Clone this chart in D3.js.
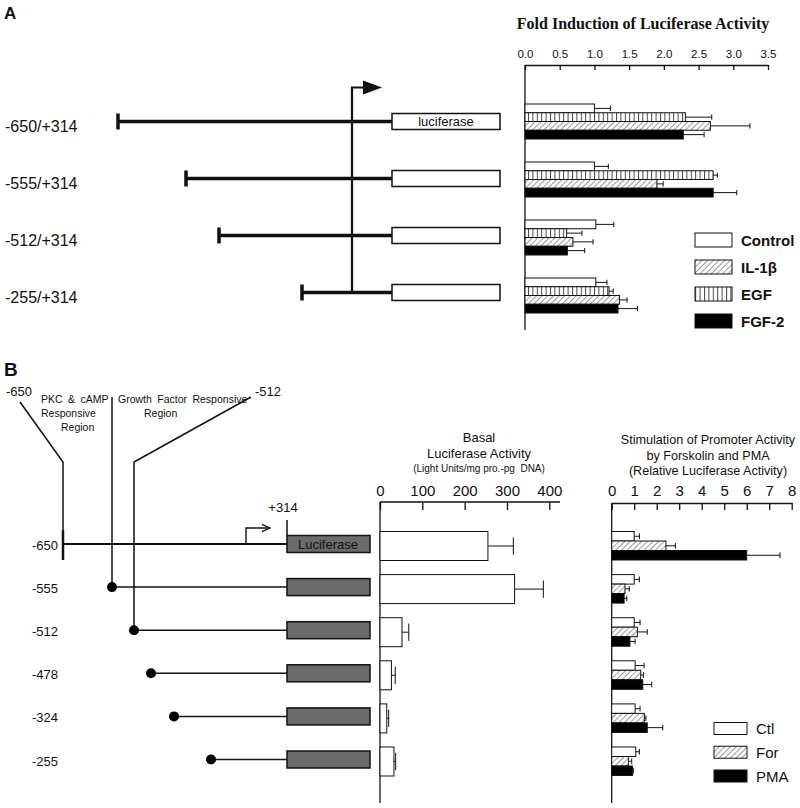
<!DOCTYPE html>
<html>
<head>
<meta charset="utf-8">
<script src="https://cdn.jsdelivr.net/npm/d3@7/dist/d3.min.js"></script>
<style>
  body { margin: 0; background: #fff; }
  text { font-family: "Liberation Sans", Arial, sans-serif; fill: #111; }
  .axis path, .axis line { stroke: #111; stroke-width: 1.3; }
</style>
</head>
<body>
<svg id="fig" width="800" height="808"></svg>
<script>
// ---- Panel A data ----
var rowsA = ["-650/+314", "-555/+314", "-512/+314", "-255/+314"];
var startsA = [-650, -555, -512, -255];
var seriesA = ["Control", "EGF", "IL-1\u03b2", "FGF-2"];   // bar order inside a group
var legendA = ["Control", "IL-1\u03b2", "EGF", "FGF-2"];
var controlA = [1.00, 1.00, 1.02, 1.02];
var controlErrA = [0.23, 0.20, 0.26, 0.16];
var egfA = [2.31, 2.71, 0.60, 1.21];
var egfErrA = [0.38, 0.06, 0.22, 0.06];
var il1bA = [2.67, 1.90, 0.69, 1.36];
var il1bErrA = [0.57, 0.09, 0.29, 0.11];
var fgf2A = [2.28, 2.71, 0.61, 1.34];
var fgf2ErrA = [0.30, 0.34, 0.25, 0.28];
var ticksA = [0, 0.5, 1, 1.5, 2, 2.5, 3, 3.5];

// ---- Panel B data ----
var rowsB = ["-650", "-555", "-512", "-478", "-324", "-255"];
var startsB = [-650, -555, -512, -478, -324, -255];
var basal = [255, 318, 52, 27, 16, 33];
var basalErr = [60, 68, 16, 9, 4.5, 4];
var ticksBasal = [0, 100, 200, 300, 400];
var seriesB = ["Ctl", "For", "PMA"];
var ctlB = [1.00, 1.00, 1.00, 1.04, 1.04, 1.07];
var ctlErrB = [0.23, 0.23, 0.26, 0.40, 0.22, 0.16];
var forB = [2.41, 0.59, 1.14, 1.29, 1.45, 0.74];
var forErrB = [0.42, 0.19, 0.44, 0.12, 0.07, 0.15];
var pmaB = [6.00, 0.55, 0.81, 1.38, 1.58, 0.92];
var pmaErrB = [1.48, 0.12, 0.23, 0.40, 0.69, 0.04];
var ticksStim = [0, 1, 2, 3, 4, 5, 6, 7, 8];

var svg = d3.select("#fig");
var defs = svg.append("defs");

// hatch patterns
var diag = defs.append("pattern").attr("id", "diag")
    .attr("patternUnits", "userSpaceOnUse").attr("width", 4).attr("height", 4)
    .attr("patternTransform", "rotate(45)");
diag.append("rect").attr("width", 4).attr("height", 4).attr("fill", "#fff");
diag.append("line").attr("x1", 0).attr("y1", 0).attr("x2", 0).attr("y2", 4)
    .attr("stroke", "#555").attr("stroke-width", 1.2);
var vert = defs.append("pattern").attr("id", "vert")
    .attr("patternUnits", "userSpaceOnUse").attr("width", 4.4).attr("height", 10);
vert.append("rect").attr("width", 4.4).attr("height", 10).attr("fill", "#fff");
vert.append("line").attr("x1", 0.5).attr("y1", 0).attr("x2", 0.5).attr("y2", 10)
    .attr("stroke", "#444").attr("stroke-width", 1);
defs.append("marker").attr("id", "open").attr("viewBox", "0 0 10 10")
    .attr("refX", 9).attr("refY", 5).attr("markerWidth", 9).attr("markerHeight", 9)
    .attr("markerUnits", "userSpaceOnUse").attr("orient", "auto")
  .append("path").attr("d", "M0,1 L9,5 L0,9").attr("fill", "none")
    .attr("stroke", "#111").attr("stroke-width", 1.4);

var fillA = { "Control": "#fff", "EGF": "url(#vert)", "IL-1\u03b2": "url(#diag)", "FGF-2": "#000" };
var fillB = { "Ctl": "#fff", "For": "url(#diag)", "PMA": "#000" };

function valuesA(s) {
  return { "Control": [controlA, controlErrA], "EGF": [egfA, egfErrA],
           "IL-1\u03b2": [il1bA, il1bErrA], "FGF-2": [fgf2A, fgf2ErrA] }[s];
}
function valuesB(s) {
  return { "Ctl": [ctlB, ctlErrB], "For": [forB, forErrB], "PMA": [pmaB, pmaErrB] }[s];
}

// draw horizontal bars with error whiskers
function drawBars(g, data, x, fill) {
  g.selectAll("rect.bar").data(data).enter().append("rect")
      .attr("class", "bar")
      .attr("x", x(0))
      .attr("y", function (d) { return d.y; })
      .attr("width", function (d) { return x(d.v) - x(0); })
      .attr("height", function (d) { return d.h; })
      .attr("fill", function (d) { return fill[d.s]; })
      .attr("stroke", "#111").attr("stroke-width", 1);
  g.selectAll("line.err").data(data).enter().append("line")
      .attr("class", "err")
      .attr("x1", function (d) { return x(d.v); })
      .attr("x2", function (d) { return x(d.v + d.e); })
      .attr("y1", function (d) { return d.y + d.h / 2; })
      .attr("y2", function (d) { return d.y + d.h / 2; })
      .attr("stroke", "#111").attr("stroke-width", 1);
  g.selectAll("line.cap").data(data).enter().append("line")
      .attr("class", "cap")
      .attr("x1", function (d) { return x(d.v + d.e); })
      .attr("x2", function (d) { return x(d.v + d.e); })
      .attr("y1", function (d) { return d.y + d.h * 0.2; })
      .attr("y2", function (d) { return d.y + d.h * 0.8; })
      .attr("stroke", "#111").attr("stroke-width", 1);
}

// ================= Panel A =================
svg.append("text").attr("x", 4).attr("y", 19).text("A")
    .style("font-size", "17px").style("font-weight", "bold");

var xA = d3.scaleLinear().domain([0, 3.5]).range([525, 768]);
var yA = d3.scalePoint().domain(rowsA).range([121.5, 295.5]);
var subA = d3.scaleBand().domain(seriesA).range([-17.5, 17.5]);
var yDiagA = d3.scalePoint().domain(rowsA).range([121.5, 292.5]);
// construct map (not to scale), bp -> px
var posA = d3.scaleLinear().domain([-650, -555, -512, -255, 0, 314])
    .range([118, 186, 219, 302, 352, 392]);

svg.append("text").attr("x", 643).attr("y", 29).attr("text-anchor", "middle")
    .text("Fold Induction of Luciferase Activity")
    .style("font-family", "'Liberation Serif', 'Times New Roman', serif")
    .style("font-size", "16px").style("font-weight", "bold");

var axA = svg.append("g").attr("class", "axis").attr("transform", "translate(0,65)")
    .call(d3.axisTop(xA).tickValues(ticksA).tickFormat(d3.format(".1f"))
      .tickSizeInner(-5).tickSizeOuter(0).tickPadding(7));
axA.selectAll("text").style("font-size", "11.5px").attr("fill", "#111");
svg.append("line").attr("x1", xA(0)).attr("x2", xA(0)).attr("y1", 65).attr("y2", 330)
    .attr("stroke", "#111").attr("stroke-width", 1.3);

var dataA = [];
rowsA.forEach(function (r, i) {
  seriesA.forEach(function (s) {
    var v = valuesA(s);
    dataA.push({ s: s, v: v[0][i], e: v[1][i], y: yA(r) + subA(s), h: subA.bandwidth() });
  });
});
drawBars(svg.append("g"), dataA, xA, fillA);

// legend A
var legA = d3.scalePoint().domain(legendA).range([240, 321]);
legendA.forEach(function (s) {
  svg.append("rect").attr("x", 695).attr("y", legA(s) - 7).attr("width", 37).attr("height", 14)
      .attr("fill", fillA[s]).attr("stroke", "#111").attr("stroke-width", 1);
  svg.append("text").attr("x", 741).attr("y", legA(s) + 5.5).text(s)
      .style("font-size", "15px").style("font-weight", "bold");
});

// construct diagram A
var gA = svg.append("g");
rowsA.forEach(function (r, i) {
  var y = yDiagA(r);
  gA.append("text").attr("x", 5).attr("y", y + 10).text(r).style("font-size", "16px");
  gA.append("line").attr("x1", posA(startsA[i])).attr("x2", posA(314)).attr("y1", y).attr("y2", y)
      .attr("stroke", "#111").attr("stroke-width", 3.5);
  gA.append("line").attr("x1", posA(startsA[i])).attr("x2", posA(startsA[i]))
      .attr("y1", y - 8).attr("y2", y + 8).attr("stroke", "#111").attr("stroke-width", 3.5);
  gA.append("rect").attr("x", posA(314)).attr("y", y - 8).attr("width", 108).attr("height", 16)
      .attr("fill", "#fff").attr("stroke", "#111").attr("stroke-width", 1.5);
});
gA.append("text").attr("x", posA(314) + 54).attr("y", yDiagA(rowsA[0]) + 4.5)
    .attr("text-anchor", "middle").text("luciferase").style("font-size", "13px");
var yTopA = yDiagA(rowsA[0]) - 34;
gA.append("path")
    .attr("d", "M" + posA(0) + "," + yDiagA(rowsA[3]) + "V" + yTopA + "H" + (posA(0) + 14))
    .attr("fill", "none").attr("stroke", "#111").attr("stroke-width", 2.2);
gA.append("path")
    .attr("d", "M" + (posA(0) + 11) + "," + (yTopA - 7) + "L" + (posA(0) + 30) + "," + yTopA +
      "L" + (posA(0) + 11) + "," + (yTopA + 7) + "Z")
    .attr("fill", "#111");

// ================= Panel B =================
svg.append("text").attr("x", 4).attr("y", 376).text("B")
    .style("font-size", "19px").style("font-weight", "bold");

var yB = d3.scalePoint().domain(rowsB).range([544, 759.5]);
var posB = d3.scaleLinear().domain([-650, -555, -512, -478, -324, -255, 0, 314])
    .range([63, 112, 134, 151, 174, 211, 246, 287]);

var gB = svg.append("g");
// region annotations
gB.append("text").attr("x", 6).attr("y", 396).text("-650").style("font-size", "13px");
gB.append("text").attr("x", 255).attr("y", 396).text("-512").style("font-size", "13px");
gB.append("path").attr("d", "M20,402L" + posB(-650) + ",462V" + (yB("-650") + 16))
    .attr("fill", "none").attr("stroke", "#111").attr("stroke-width", 1.5);
gB.append("path").attr("d", "M" + posB(-555) + ",397V" + yB("-555"))
    .attr("fill", "none").attr("stroke", "#111").attr("stroke-width", 1.5);
gB.append("path").attr("d", "M251,397L" + posB(-512) + ",462V" + yB("-512"))
    .attr("fill", "none").attr("stroke", "#111").attr("stroke-width", 1.5);
[["PKC & cAMP", 41, 403], ["Responsive", 41, 417], ["Region", 61, 431],
 ["Growth Factor Responsive", 118, 403], ["Region", 144, 417]].forEach(function (t) {
  gB.append("text").attr("x", t[1]).attr("y", t[2]).text(t[0])
      .style("font-size", "10.5px").style("word-spacing", "2.5px");
});

rowsB.forEach(function (r, i) {
  var y = yB(r);
  gB.append("text").attr("x", 32).attr("y", y + 6).text(r).style("font-size", "13px");
  if (i === 0) {
    gB.append("line").attr("x1", posB(-650)).attr("x2", posB(314)).attr("y1", y).attr("y2", y)
        .attr("stroke", "#111").attr("stroke-width", 2);
    gB.append("line").attr("x1", posB(-650)).attr("x2", posB(-650)).attr("y1", y - 14).attr("y2", y + 16)
        .attr("stroke", "#111").attr("stroke-width", 2.5);
  } else {
    gB.append("line").attr("x1", posB(startsB[i])).attr("x2", posB(314)).attr("y1", y).attr("y2", y)
        .attr("stroke", "#111").attr("stroke-width", 1.5);
    gB.append("circle").attr("cx", posB(startsB[i])).attr("cy", y).attr("r", 5).attr("fill", "#000");
  }
  gB.append("rect").attr("x", posB(314)).attr("y", y - 8.5).attr("width", 83).attr("height", 17)
      .attr("fill", "#6b6b6b").attr("stroke", "#111").attr("stroke-width", 1.5);
});
gB.append("text").attr("x", posB(314) + 41).attr("y", yB("-650") + 5)
    .attr("text-anchor", "middle").text("Luciferase").style("font-size", "13px");
gB.append("text").attr("x", posB(314) - 4).attr("y", 512).attr("text-anchor", "middle")
    .text("+314").style("font-size", "13px");
gB.append("line").attr("x1", posB(314)).attr("x2", posB(314)).attr("y1", 520).attr("y2", yB("-650") - 8.5)
    .attr("stroke", "#111").attr("stroke-width", 1.5);
gB.append("path").attr("d", "M" + posB(0) + "," + yB("-650") + "V" + (yB("-650") - 16) + "H" + (posB(0) + 24))
    .attr("fill", "none").attr("stroke", "#111").attr("stroke-width", 1.4)
    .attr("marker-end", "url(#open)");

// basal chart
var xBasal = d3.scaleLinear().domain([0, 400]).range([380, 549.3]);
var axBasal = svg.append("g").attr("class", "axis").attr("transform", "translate(0,502)")
    .call(d3.axisTop(xBasal).tickValues(ticksBasal).tickSizeInner(-8).tickSizeOuter(0).tickPadding(6));
axBasal.select(".domain").attr("d", "M380,0H560");
axBasal.selectAll("text").style("font-size", "15px").attr("fill", "#111");
svg.append("line").attr("x1", 380).attr("x2", 380).attr("y1", 502).attr("y2", 803)
    .attr("stroke", "#111").attr("stroke-width", 1.3);
[["Basal", 442, "13px"], ["Luciferase Activity", 458, "13px"],
 ["(Light Units/mg pro.-pg  DNA)", 471.5, "10px"]].forEach(function (t) {
  svg.append("text").attr("x", 479).attr("y", t[1]).attr("text-anchor", "middle")
      .text(t[0]).style("font-size", t[2]).style("white-space", "pre");
});
var dataBasal = rowsB.map(function (r, i) {
  return { s: "basal", v: basal[i], e: basalErr[i], y: yB(r) - 12.5, h: 29 };
});
drawBars(svg.append("g"), dataBasal, xBasal, { basal: "#fff" });

// stimulation chart
var xStim = d3.scaleLinear().domain([0, 8]).range([611.7, 791.7]);
var subB = d3.scaleBand().domain(seriesB).range([-12.5, 16]);
var axStim = svg.append("g").attr("class", "axis").attr("transform", "translate(0,503)")
    .call(d3.axisTop(xStim).tickValues(ticksStim).tickSizeInner(-7).tickSizeOuter(0).tickPadding(7));
axStim.selectAll("text").style("font-size", "15px").attr("fill", "#111");
svg.append("line").attr("x1", xStim(0)).attr("x2", xStim(0)).attr("y1", 503).attr("y2", 803)
    .attr("stroke", "#111").attr("stroke-width", 1.3);
[["Stimulation of Promoter Activity", 443.5], ["by Forskolin and PMA", 459.5],
 ["(Relative Luciferase Activity)", 474.5]].forEach(function (t) {
  svg.append("text").attr("x", 708).attr("y", t[1]).attr("text-anchor", "middle")
      .text(t[0]).style("font-size", "12.6px");
});
var dataStim = [];
rowsB.forEach(function (r, i) {
  seriesB.forEach(function (s) {
    var v = valuesB(s);
    dataStim.push({ s: s, v: v[0][i], e: v[1][i], y: yB(r) + subB(s), h: subB.bandwidth() });
  });
});
drawBars(svg.append("g"), dataStim, xStim, fillB);

// legend B
var legB = d3.scalePoint().domain(seriesB).range([728.5, 776]);
seriesB.forEach(function (s) {
  svg.append("rect").attr("x", 714).attr("y", legB(s) - 6).attr("width", 33).attr("height", 12)
      .attr("fill", fillB[s]).attr("stroke", "#111").attr("stroke-width", 1);
  svg.append("text").attr("x", 756).attr("y", legB(s) + 5.5).text(s).style("font-size", "15px");
});
</script>
</body>
</html>
